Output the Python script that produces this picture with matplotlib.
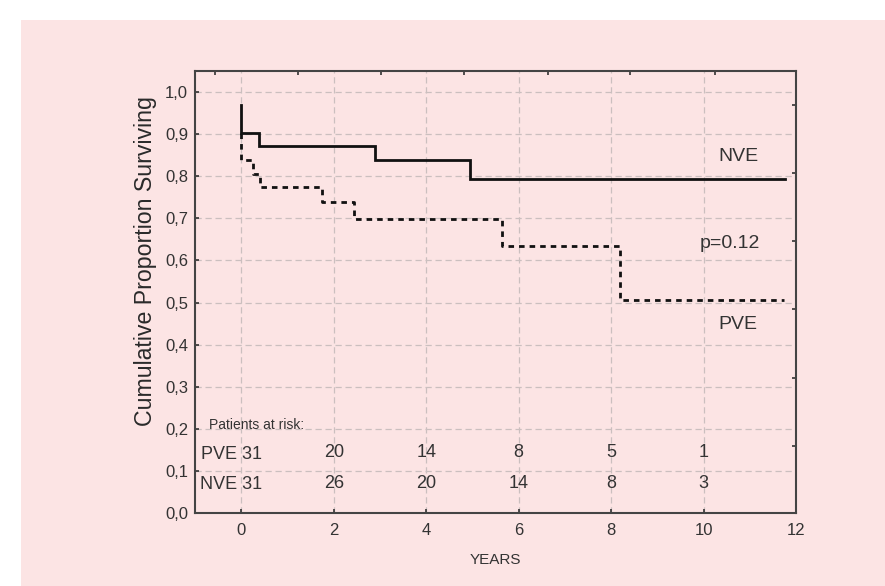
import matplotlib
matplotlib.use("Agg")
import matplotlib.pyplot as plt
from matplotlib.patches import Rectangle

# Kaplan-Meier steps (years, proportion surviving)
nve_t = [0.0, 0.38, 2.9, 4.95, 11.77]
nve_s = [0.903, 0.871, 0.839, 0.793, 0.793]
nve_start = 0.969

pve_t = [0.0, 0.26, 0.41, 1.75, 2.44, 5.65, 8.19, 11.73]
pve_s = [0.839, 0.806, 0.774, 0.739, 0.698, 0.634, 0.506, 0.506]
pve_start = 0.903

risk_years = [2, 4, 6, 8, 10]
pve_risk = [20, 14, 8, 5, 1]
nve_risk = [26, 20, 14, 8, 3]

x_ticks = [0, 2, 4, 6, 8, 10, 12]
y_ticks = [0.0, 0.1, 0.2, 0.3, 0.4, 0.5, 0.6, 0.7, 0.8, 0.9, 1.0]
top_ticks = [-0.56, 1.23, 3.02, 4.82, 6.63, 8.42, 10.24]
right_ticks = [0.16, 0.32, 0.485, 0.646, 0.808, 0.969]

pink = "#fce4e4"
ink = "#333333"
plt.rcParams["font.family"] = ["Liberation Sans", "DejaVu Sans"]

fig = plt.figure(figsize=(8.85, 5.86), dpi=100, facecolor="white")
fig.patches.append(Rectangle((21 / 885, 0), 1, 1 - 20 / 586, transform=fig.transFigure,
                             facecolor=pink, edgecolor="none", zorder=0))
ax = fig.add_axes([195 / 885, 1 - 513 / 586, (796 - 195) / 885, (513 - 71) / 586])
ax.set_zorder(2)
ax.set_facecolor(pink)

# curves: vertical drop at time 0 then post-steps
ax.plot([0] + nve_t, [nve_start] + nve_s, drawstyle="steps-post", color="#111111",
        lw=2.0, solid_joinstyle="miter", zorder=3)
ax.plot([0] + pve_t, [pve_start] + pve_s, drawstyle="steps-post", color="#111111",
        lw=2.0, linestyle=(0, (2.0, 1.8)), zorder=3)

ax.set_xlim(-1, 12)
ax.set_ylim(0, 1.05)
ax.set_xticks(x_ticks)
ax.set_yticks(y_ticks)
ax.set_yticklabels([f"{v:.1f}".replace(".", ",") for v in y_ticks])
ax.tick_params(direction="in", length=3, width=1.2, colors=ink, labelsize=12, labelcolor=ink)
ax.tick_params(axis="x", pad=7)
ax.tick_params(axis="y", pad=5)
ax.grid(True, color="#cbbfbf", lw=0.9, linestyle=(0, (5, 3)))
for sp in ax.spines.values():
    sp.set_color("#444444")
    sp.set_linewidth(1.5)

# stray ticks on the top and right spines
top = ax.secondary_xaxis("top")
top.set_xticks(top_ticks, labels=[])
right = ax.secondary_yaxis("right")
right.set_yticks(right_ticks, labels=[])
for sec in (top, right):
    sec.tick_params(direction="in", length=3, width=1.2, colors=ink)
    for sp in sec.spines.values():
        sp.set_visible(False)

ax.text(-0.083, 0.57, "Cumulative Proportion Surviving", transform=ax.transAxes,
        fontsize=16.7, color="#2a2a2a", rotation=90, ha="center", va="center")
ax.set_xlabel("YEARS", fontsize=11, color=ink, labelpad=11)

ax.text(10.75, 0.846, "NVE", fontsize=14, color=ink, ha="center", va="center")
ax.text(10.56, 0.641, "p=0.12", fontsize=14, color=ink, ha="center", va="center")
ax.text(10.75, 0.447, "PVE", fontsize=14, color=ink, ha="center", va="center")

ax.text(-0.69, 0.209, "Patients at risk:", fontsize=10, color=ink, ha="left", va="center")
ax.text(-0.88, 0.14, "PVE 31", fontsize=13, color=ink, ha="left", va="center")
ax.text(-0.9, 0.067, "NVE 31", fontsize=13, color=ink, ha="left", va="center")
for x, p, n in zip(risk_years, pve_risk, nve_risk):
    ax.text(x, 0.143, str(p), fontsize=13, color=ink, ha="center", va="center")
    ax.text(x, 0.069, str(n), fontsize=13, color=ink, ha="center", va="center")

fig.savefig("out.png", dpi=100, facecolor="white")
